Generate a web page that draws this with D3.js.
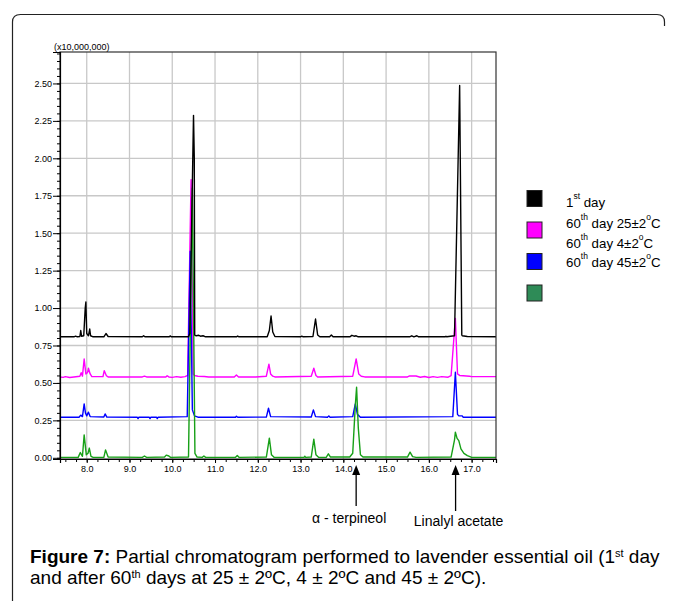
<!DOCTYPE html>
<html>
<head>
<meta charset="utf-8">
<script src="https://cdn.jsdelivr.net/npm/d3@7"></script>
<style>
  body { margin: 0; background: #fff; }
  svg { display: block; font-family: "Liberation Sans", Arial, sans-serif; }
  .axis text { font-size: 9px; fill: #000; }
  .axis path, .axis line { stroke: #000; }
</style>
</head>
<body>
<svg id="chart" width="678" height="601"></svg>
<script>
// DATA (retention time in min, intensity in x10,000,000 counts)

var firstDay = [
  [7.375, 0.808], [7.70, 0.808], [7.74, 0.812], [7.78, 0.808], [7.84, 0.81], [7.86, 0.85], [7.88, 0.812],
  [7.93, 0.815], [7.965, 1.00], [7.98, 1.04], [8.0, 0.83], [8.04, 0.815], [8.07, 0.86], [8.09, 0.815],
  [8.15, 0.808], [8.40, 0.808], [8.45, 0.83], [8.50, 0.81], [9.30, 0.808], [9.33, 0.815], [9.36, 0.808],
  [9.93, 0.808], [9.95, 0.814], [9.98, 0.808], [10.38, 0.808], [10.41, 0.83], [10.497, 2.287], [10.515, 2.0],
  [10.525, 0.82], [10.56, 0.815], [10.62, 0.818], [10.66, 0.812], [10.72, 0.815], [10.78, 0.808],
  [11.50, 0.808], [11.53, 0.813], [11.56, 0.808], [12.22, 0.808], [12.27, 0.85], [12.31, 0.947],
  [12.35, 0.84], [12.40, 0.81], [13.00, 0.808], [13.03, 0.812], [13.06, 0.808], [13.29, 0.81],
  [13.35, 0.927], [13.40, 0.82], [13.45, 0.808], [13.68, 0.808], [13.72, 0.82], [13.76, 0.808],
  [14.15, 0.808], [14.2, 0.818], [14.25, 0.812], [14.3, 0.815], [14.35, 0.808], [15.55, 0.808],
  [15.6, 0.815], [15.65, 0.808], [15.72, 0.815], [15.76, 0.808], [16.38, 0.808], [16.4, 0.812],
  [16.42, 0.808], [16.60, 0.815], [16.72, 2.487], [16.77, 0.82], [16.78, 0.815], [16.90, 0.81], [17.57, 0.808]
];

var day60at25 = [
  [7.375, 0.54], [7.45, 0.537], [7.5, 0.542], [7.6, 0.536], [7.7, 0.54], [7.84, 0.545], [7.87, 0.568],
  [7.9, 0.545], [7.94, 0.66], [7.98, 0.56], [8.02, 0.57], [8.04, 0.598], [8.08, 0.56], [8.12, 0.542],
  [8.38, 0.542], [8.41, 0.582], [8.46, 0.548], [8.5, 0.54], [9.3, 0.54], [9.35, 0.545], [9.4, 0.54],
  [9.85, 0.54], [9.88, 0.548], [9.92, 0.54], [10.0, 0.537], [10.1, 0.542], [10.2, 0.538], [10.3, 0.542],
  [10.36, 0.55], [10.44, 1.858], [10.49, 0.56], [10.52, 0.55], [10.6, 0.545], [10.75, 0.543], [10.85, 0.54],
  [11.45, 0.54], [11.5, 0.553], [11.55, 0.54], [11.95, 0.54], [12.2, 0.545], [12.26, 0.625], [12.3, 0.56],
  [12.35, 0.545], [12.4, 0.54], [13.25, 0.545], [13.31, 0.598], [13.36, 0.55], [13.4, 0.54],
  [14.22, 0.545], [14.30, 0.66], [14.36, 0.56], [14.42, 0.545], [14.5, 0.54], [15.5, 0.54], [15.55, 0.547],
  [15.7, 0.546], [15.8, 0.538], [15.9, 0.543], [16.0, 0.536], [16.1, 0.542], [16.2, 0.537], [16.3, 0.542],
  [16.45, 0.538], [16.52, 0.548], [16.62, 0.931], [16.67, 0.56], [16.72, 0.55], [16.8, 0.548],
  [16.95, 0.545], [17.0, 0.542], [17.57, 0.542]
];

var day60at45 = [
  [7.375, 0.271], [7.82, 0.271], [7.86, 0.285], [7.9, 0.275], [7.94, 0.36], [7.97, 0.3], [8.0, 0.28],
  [8.04, 0.305], [8.08, 0.275], [8.4, 0.272], [8.43, 0.293], [8.47, 0.272], [9.18, 0.271], [9.2, 0.262],
  [9.22, 0.271], [9.46, 0.271], [9.48, 0.262], [9.5, 0.271], [9.63, 0.271], [9.65, 0.262], [9.67, 0.271],
  [10.35, 0.275], [10.42, 1.38], [10.47, 0.32], [10.52, 0.28], [10.6, 0.271], [11.48, 0.271], [11.5, 0.278],
  [11.53, 0.271], [12.2, 0.272], [12.25, 0.331], [12.3, 0.275], [13.25, 0.272], [13.3, 0.32], [13.35, 0.275],
  [13.63, 0.271], [13.66, 0.28], [13.69, 0.271], [14.22, 0.275], [14.28, 0.36], [14.33, 0.29], [14.4, 0.271],
  [16.56, 0.275], [16.62, 0.571], [16.67, 0.29], [16.7, 0.28], [16.78, 0.28], [16.8, 0.271], [17.57, 0.271]
];

var day60at4 = [
  [7.375, 0.003], [7.8, 0.003], [7.85, 0.035], [7.9, 0.01], [7.94, 0.153], [7.99, 0.02], [8.03, 0.03],
  [8.06, 0.065], [8.1, 0.01], [8.15, 0.003], [8.4, 0.003], [8.44, 0.053], [8.5, 0.005], [9.3, 0.003],
  [9.35, 0.012], [9.4, 0.003], [9.82, 0.005], [9.86, 0.018], [9.92, 0.012], [9.96, 0.003], [10.38, 0.005],
  [10.47, 1.80], [10.53, 0.03], [10.58, 0.005], [10.7, 0.003], [10.74, 0.012], [10.78, 0.003],
  [11.48, 0.003], [11.52, 0.015], [11.56, 0.003], [12.2, 0.005], [12.27, 0.131], [12.32, 0.02],
  [12.38, 0.003], [13.08, 0.003], [13.1, 0.01], [13.12, 0.003], [13.25, 0.005], [13.31, 0.125],
  [13.36, 0.02], [13.42, 0.003], [13.6, 0.003], [13.65, 0.027], [13.7, 0.005], [14.15, 0.005],
  [14.22, 0.03], [14.28, 0.35], [14.31, 0.471], [14.35, 0.2], [14.4, 0.02], [14.46, 0.005], [15.5, 0.005],
  [15.56, 0.038], [15.62, 0.008], [15.7, 0.003], [16.52, 0.005], [16.6, 0.12], [16.62, 0.171],
  [16.66, 0.13], [16.7, 0.115], [16.75, 0.06], [16.82, 0.03], [16.9, 0.015], [16.96, 0.008],
  [17.0, 0.003], [17.57, 0.003]
];

var yMajorTicks = [0, 0.25, 0.5, 0.75, 1.0, 1.25, 1.5, 1.75, 2.0, 2.25, 2.5];
var xMajorTicks = [8, 9, 10, 11, 12, 13, 14, 15, 16, 17];

var legendColors = ["#000000", "#ff00ff", "#0000ff", "#2e8b57"];
var peakLabels = [
  { time: 14.30, name: "α - terpineol" },
  { time: 16.625, name: "Linalyl acetate" }
];

// SETUP

var svg = d3.select("#chart");
var x = d3.scaleLinear().domain([7.375, 17.57]).range([60, 496]);
var y = d3.scaleLinear().domain([-0.008, 2.71]).range([459, 52]);

svg.append("rect").attr("width", 678).attr("height", 601).attr("fill", "#fff");

// outer frame (open on the right)
svg.append("path")
  .attr("d", "M12.5,601 L12.5,22 Q12.5,14.5 20.5,14.5 L657,14.5 Q664.5,14.5 664.5,22 L664.5,26")
  .attr("fill", "none")
  .attr("stroke", "#222")
  .attr("stroke-width", 1.2);

// grid
var grid = svg.append("g").attr("class", "grid");
grid.selectAll(".vgrid")
  .data(xMajorTicks)
  .enter().append("line")
  .attr("x1", function (d) { return x(d); })
  .attr("x2", function (d) { return x(d); })
  .attr("y1", y.range()[1])
  .attr("y2", y.range()[0])
  .attr("stroke", "#c8c8c8")
  .attr("stroke-width", 1.3);
grid.selectAll(".hgrid")
  .data(yMajorTicks.slice(1))
  .enter().append("line")
  .attr("x1", x.range()[0])
  .attr("x2", x.range()[1])
  .attr("y1", function (d) { return y(d); })
  .attr("y2", function (d) { return y(d); })
  .attr("stroke", "#c8c8c8")
  .attr("stroke-width", 1.3);

// traces
var line = d3.line()
  .x(function (d) { return x(d[0]); })
  .y(function (d) { return y(d[1]); });

var traces = [
  { data: day60at25, color: "#ff00ff" },
  { data: day60at45, color: "#0000ff" },
  { data: day60at4, color: "#17a017" },
  { data: firstDay, color: "#000000" }
];

svg.append("g").selectAll("path")
  .data(traces)
  .enter().append("path")
  .attr("d", function (d) { return line(d.data); })
  .attr("fill", "none")
  .attr("stroke", function (d) { return d.color; })
  .attr("stroke-width", 1.4)
  .attr("stroke-linejoin", "round");

// plot frame
svg.append("rect")
  .attr("x", x.range()[0])
  .attr("y", y.range()[1])
  .attr("width", x.range()[1] - x.range()[0])
  .attr("height", y.range()[0] - y.range()[1])
  .attr("fill", "none")
  .attr("stroke", "#333")
  .attr("stroke-width", 1.2);

// AXES

var yMinor = d3.range(0, 2.71, 0.05);
svg.append("g")
  .attr("class", "axis")
  .attr("transform", "translate(60,0)")
  .call(d3.axisLeft(y).tickValues(yMinor).tickSize(3).tickFormat(""))
  .select(".domain").remove();

svg.append("g")
  .attr("class", "axis")
  .attr("transform", "translate(60,0)")
  .call(d3.axisLeft(y).tickValues(yMajorTicks).tickSize(7).tickPadding(1).tickFormat(d3.format(".2f")))
  .select(".domain").attr("stroke-width", 1.2);

var xMinor = d3.range(7.5, 17.57, 0.25);
svg.append("g")
  .attr("class", "axis")
  .attr("transform", "translate(0,459)")
  .call(d3.axisBottom(x).tickValues(xMinor).tickSize(3).tickFormat(""))
  .select(".domain").remove();

svg.append("g")
  .attr("class", "axis")
  .attr("transform", "translate(0,459)")
  .call(d3.axisBottom(x).tickValues(xMajorTicks).tickSize(4).tickPadding(3).tickFormat(d3.format(".1f")))
  .select(".domain").attr("stroke-width", 1.2);

svg.append("text")
  .attr("x", 54)
  .attr("y", 50)
  .attr("font-size", 9)
  .text("(x10,000,000)");

// PEAK ANNOTATIONS

var ann = svg.append("g").selectAll("g")
  .data(peakLabels)
  .enter().append("g");

ann.append("line")
  .attr("x1", function (d) { return x(d.time); })
  .attr("x2", function (d) { return x(d.time); })
  .attr("y1", 472)
  .attr("y2", function (d, i) { return i === 0 ? 506 : 511; })
  .attr("stroke", "#000")
  .attr("stroke-width", 1.3);

ann.append("path")
  .attr("d", function (d) {
    var cx = x(d.time);
    return "M" + cx + ",465 L" + (cx - 4) + ",475 L" + (cx + 4) + ",475 Z";
  })
  .attr("fill", "#000");

ann.append("text")
  .attr("x", function (d, i) { return x(d.time) + (i === 0 ? -7 : 3); })
  .attr("y", function (d, i) { return i === 0 ? 523 : 526; })
  .attr("text-anchor", "middle")
  .attr("font-size", 14)
  .text(function (d) { return d.name; });

// LEGEND

var legend = svg.append("g");
legend.selectAll("rect")
  .data(legendColors)
  .enter().append("rect")
  .attr("x", 527)
  .attr("y", function (d, i) { return 190.5 + i * 31.5; })
  .attr("width", 15)
  .attr("height", 16)
  .attr("fill", function (d) { return d; })
  .attr("stroke", "#222")
  .attr("stroke-width", 1);

var legendLines = [
  { y: 207, parts: [["1", 0], ["st", 1], [" day", 0]] },
  { y: 228, parts: [["60", 0], ["th", 1], [" day 25±2", 0], ["o", 1], ["C", 0]] },
  { y: 247.5, parts: [["60", 0], ["th", 1], [" day 4±2", 0], ["o", 1], ["C", 0]] },
  { y: 267, parts: [["60", 0], ["th", 1], [" day 45±2", 0], ["o", 1], ["C", 0]] }
];

function addRuns(textSel, parts, supSize, supShift) {
  var prev = 0;
  parts.forEach(function (p) {
    var shift = p[1] ? -supShift : 0;
    textSel.append("tspan")
      .attr("dy", shift - prev)
      .attr("font-size", p[1] ? supSize : null)
      .attr("font-weight", p[2] ? "bold" : null)
      .text(p[0]);
    prev = shift;
  });
}

legendLines.forEach(function (l) {
  var t = legend.append("text")
    .attr("x", 566)
    .attr("y", l.y)
    .attr("font-size", 13.3)
    .style("white-space", "pre");
  addRuns(t, l.parts, 8.5, 8);
});

// CAPTION

var cap1 = svg.append("text").attr("x", 30).attr("y", 563).attr("font-size", 19).style("white-space", "pre");
addRuns(cap1, [["Figure 7:", 0, 1], [" Partial chromatogram performed to lavender essential oil (1", 0], ["st", 1], [" day", 0]], 11, 6);

var cap2 = svg.append("text").attr("x", 30).attr("y", 584).attr("font-size", 19).style("white-space", "pre");
addRuns(cap2, [["and after 60", 0], ["th", 1], [" days at 25 ± 2ºC, 4 ± 2ºC and 45 ± 2ºC).", 0]], 11, 6);
</script>
</body>
</html>
